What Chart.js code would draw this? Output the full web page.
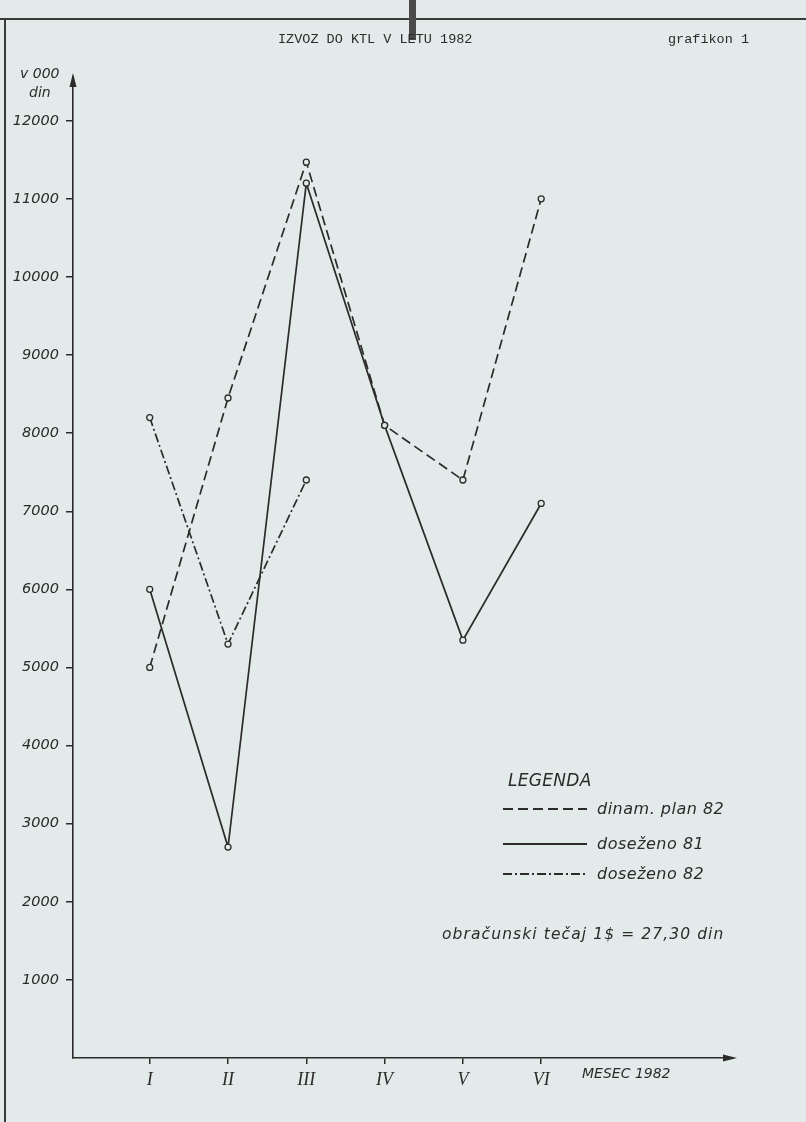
<!DOCTYPE html>
<html>
<head>
<meta charset="utf-8">
<script src="https://cdn.jsdelivr.net/npm/chart.js@4.4.1/dist/chart.umd.min.js"></script>
<style>
  html, body { margin: 0; padding: 0; background: #e3eaea; }
  #page { position: relative; width: 806px; height: 1122px; overflow: hidden; }
  #chart { position: absolute; left: 0; top: 0; }
  .txt { position: absolute; color: #2b2b2b; white-space: nowrap; line-height: 1; }
  .mono { font-family: 'Liberation Mono', monospace; font-size: 13.5px; }
  .hand { font-family: 'DejaVu Sans', sans-serif; font-style: italic; }
  .frame-top { position: absolute; left: 0; top: 18px; width: 806px; height: 2px; background: #3a3a3a; }
  .frame-left { position: absolute; left: 4px; top: 18px; width: 2px; height: 1104px; background: #3a3a3a; }
  .bar { position: absolute; left: 409px; top: 0; width: 7px; height: 40px; background: #4a4a4a; }
  .legend-row { position: absolute; left: 503px; display: flex; align-items: center; }
  .legend-row svg { margin-right: 10px; }
</style>
</head>
<body>
<div id="page">
  <canvas id="chart" width="806" height="1122"></canvas>
  <div class="frame-top"></div>
  <div class="frame-left"></div>
  <div class="bar"></div>

  <div class="txt mono" style="left:278px; top:33px;">IZVOZ DO KTL V LETU 1982</div>
  <div class="txt mono" style="left:668px; top:33px;">grafikon 1</div>
  <div class="txt hand" style="left:20px; top:66px; font-size:14px;">v 000</div>
  <div class="txt hand" style="left:29px; top:85px; font-size:14px;">din</div>
  <div class="txt hand" style="left:582px; top:1066px; font-size:14px;">MESEC 1982</div>

  <div class="txt hand" style="left:508px; top:772px; font-size:17px; letter-spacing:0.3px;">LEGENDA</div>
  <div id="legend"></div>
  <div class="txt hand" style="left:442px; top:927px; font-size:15.5px; letter-spacing:1.1px;">obračunski tečaj 1$ = 27,30 din</div>
</div>

<script>
const months = ['I', 'II', 'III', 'IV', 'V', 'VI'];
const planValues = [5000, 8450, 11470, 8100, 7400, 11000];   // dinam. plan 82
const done81Values = [6000, 2700, 11200, 8100, 5350, 7100];  // doseženo 81
const done82Values = [8200, 5300, 7400];                     // doseženo 82
const yTicks = [1000, 2000, 3000, 4000, 5000, 6000, 7000, 8000, 9000, 10000, 11000, 12000];

const ink = '#2b2b2b';
const paper = '#e3eaea';

const series = [
  { label: 'dinam. plan 82', values: planValues, dash: [10, 5] },
  { label: 'doseženo 81', values: done81Values, dash: [] },
  { label: 'doseženo 82', values: done82Values, dash: [9, 3, 2, 3] },
];

const toPoints = vals => vals.map((v, i) => ({ x: i + 1, y: v }));

// arrowheads on both axes
const arrows = {
  id: 'arrows',
  afterDraw(chart) {
    const { ctx, chartArea: a } = chart;
    ctx.save();
    ctx.fillStyle = ink;
    ctx.beginPath();
    ctx.moveTo(a.left, a.top - 4);
    ctx.lineTo(a.left - 3.5, a.top + 10);
    ctx.lineTo(a.left + 3.5, a.top + 10);
    ctx.closePath();
    ctx.fill();
    ctx.beginPath();
    ctx.moveTo(a.right + 4, a.bottom);
    ctx.lineTo(a.right - 10, a.bottom - 3.5);
    ctx.lineTo(a.right - 10, a.bottom + 3.5);
    ctx.closePath();
    ctx.fill();
    ctx.restore();
  }
};

new Chart(document.getElementById('chart'), {
  type: 'line',
  data: {
    datasets: series.map(s => ({
      label: s.label,
      data: toPoints(s.values),
      borderColor: ink,
      borderWidth: 1.7,
      borderDash: s.dash,
      pointRadius: 3,
      pointBorderWidth: 1.3,
      pointBorderColor: ink,
      pointBackgroundColor: paper,
      tension: 0,
      fill: false,
    })),
  },
  options: {
    responsive: false,
    animation: false,
    layout: { padding: { left: 0, top: 77, right: 73, bottom: 0 } },
    plugins: { legend: { display: false }, tooltip: { enabled: false } },
    scales: {
      x: {
        type: 'linear',
        min: 0.02,
        max: 8.45,
        afterBuildTicks: s => { s.ticks = months.map((m, i) => ({ value: i + 1 })); },
        afterFit: s => { s.height = 64; },
        ticks: {
          callback: v => months[v - 1],
          font: { family: 'Liberation Serif', style: 'italic', size: 18 },
          color: ink,
          padding: 5,
          maxRotation: 0,
        },
        grid: { drawOnChartArea: false, tickLength: 6, color: ink, lineWidth: 1.5 },
        border: { display: true, color: ink, width: 1.6 },
      },
      y: {
        min: 0,
        max: 12560,
        afterBuildTicks: s => { s.ticks = yTicks.map(v => ({ value: v })); },
        afterFit: s => { s.width = 73; },
        ticks: {
          callback: v => String(v),
          font: { family: 'DejaVu Sans', style: 'italic', size: 14.5 },
          color: ink,
          padding: 7,
        },
        grid: { drawOnChartArea: false, tickLength: 7, color: ink, lineWidth: 1.5 },
        border: { display: true, color: ink, width: 1.6 },
      },
    },
  },
  plugins: [arrows],
});

// legend rows with the same dash patterns as the lines
const rowTops = [799, 834, 864];
const legend = document.getElementById('legend');
series.forEach((s, i) => {
  const row = document.createElement('div');
  row.className = 'legend-row';
  row.style.top = rowTops[i] + 'px';
  row.innerHTML =
    `<svg width="84" height="18"><line x1="0" y1="9" x2="84" y2="9" stroke="${ink}" stroke-width="2" stroke-dasharray="${s.dash.join(' ')}"/></svg>` +
    `<span class="hand" style="font-size:16px;color:${ink};letter-spacing:0.5px">${s.label}</span>`;
  legend.appendChild(row);
});
</script>
</body>
</html>
